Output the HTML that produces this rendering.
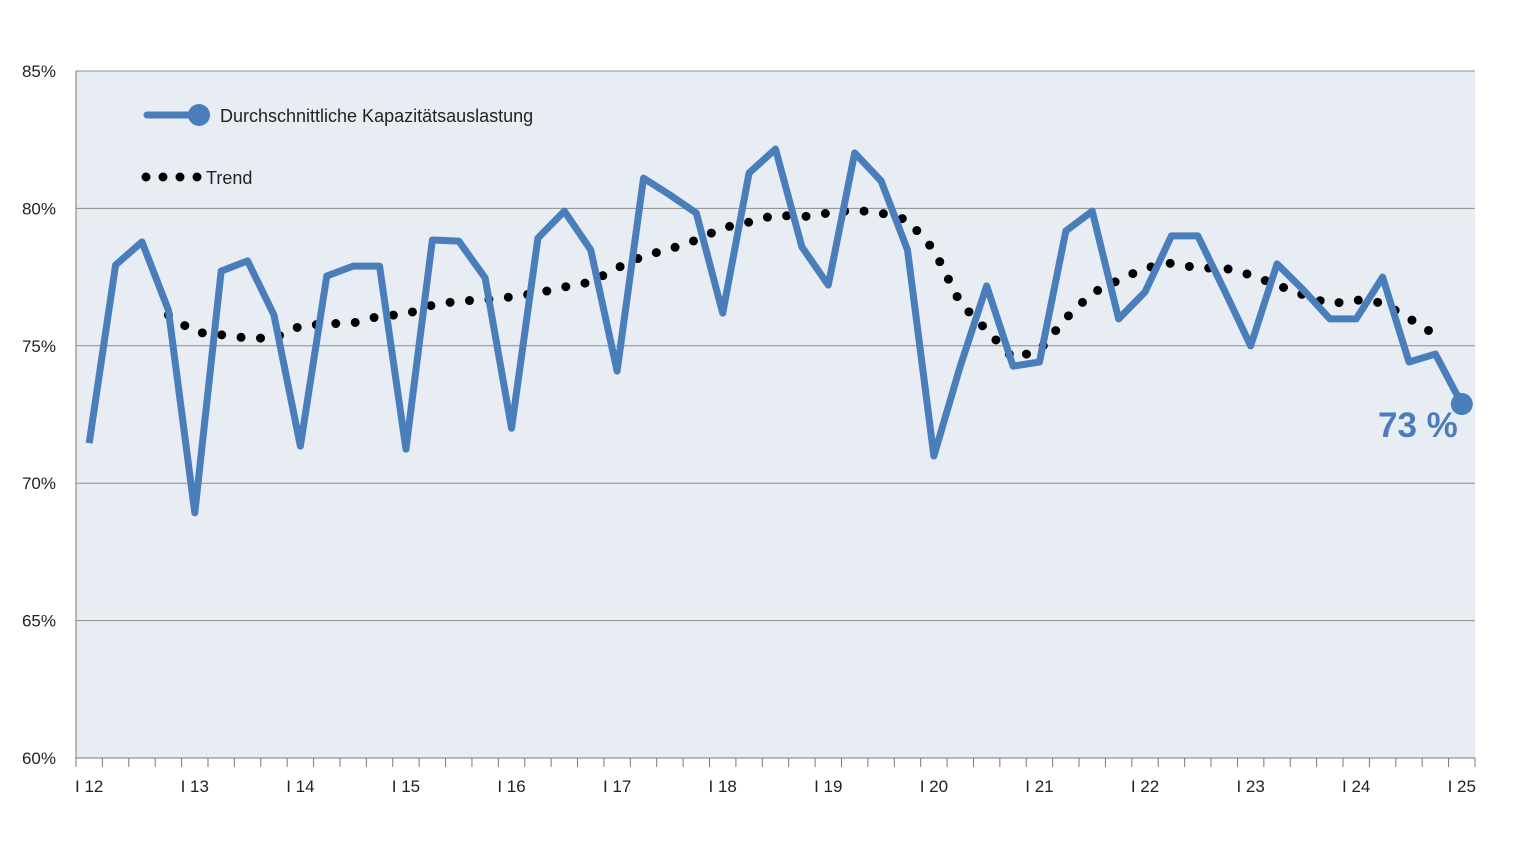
<!DOCTYPE html>
<html><head><meta charset="utf-8"><style>
body{margin:0;background:#fff;}
svg{display:block;font-family:"Liberation Sans",sans-serif;}
</style></head><body>
<svg width="1520" height="845" id="chart">
<rect x="76" y="71" width="1399" height="687" fill="#e8edf4"/>
<g id="grid"></g><g id="axes"></g><g id="series"></g>
<g>
<line x1="147" y1="115" x2="198" y2="115" stroke="#4a7ebb" stroke-width="7" stroke-linecap="round"/>
<circle cx="199" cy="115" r="11" fill="#4a7ebb"/>
<text x="220" y="122" font-size="18" fill="#222">Durchschnittliche Kapazitätsauslastung</text>
<line x1="146" y1="177" x2="198" y2="177" stroke="#000" stroke-width="9" stroke-linecap="round" stroke-dasharray="0 17"/>
<text x="206" y="184" font-size="18" fill="#222">Trend</text>
</g>
</svg>
<script>
const yTicks=[60,65,70,75,80,85];
const yearLabels=["I 12","I 13","I 14","I 15","I 16","I 17","I 18","I 19","I 20","I 21","I 22","I 23","I 24","I 25"];
const capacity=[71.46,77.94,78.78,76.3,68.92,77.72,78.09,76.12,71.35,77.54,77.9,77.9,71.24,78.85,78.81,77.47,72.0,78.92,79.9,78.49,74.08,81.1,80.49,79.83,76.19,81.29,82.16,78.6,77.21,82.02,81.0,78.49,70.99,74.26,77.18,74.26,74.41,79.18,79.9,75.98,76.96,79.0,79.0,77.03,75.0,77.98,77.03,75.98,75.98,77.5,74.41,74.7,72.88];
const trendStart=3;
const trend=[76.12,75.5,75.4,75.28,75.28,75.72,75.8,75.83,76.08,76.15,76.48,76.63,76.67,76.78,76.92,77.14,77.32,77.83,78.27,78.52,78.85,79.29,79.5,79.76,79.69,79.83,79.94,79.83,79.58,78.49,76.56,75.57,74.55,74.84,76.0,76.92,77.39,77.83,78.01,77.83,77.83,77.58,77.21,76.85,76.52,76.67,76.56,76.0,75.4];
const lastLabel="73 %";
const NS="http://www.w3.org/2000/svg";
const L=76,R=1475,T=71,B=758,yMin=60,yMax=85;
const n=capacity.length, step=(R-L)/n;
const xs=i=>L+step*(i+0.5);
const ys=v=>B-(v-yMin)/(yMax-yMin)*(B-T);
function mk(tag,attrs,parent){const e=document.createElementNS(NS,tag);for(const k in attrs)e.setAttribute(k,attrs[k]);document.getElementById(parent).appendChild(e);return e;}
yTicks.forEach(v=>{
 const y=ys(v);
 const g=mk('line',{x1:L,x2:R,y1:y,y2:y,stroke:v===60?'#777':'#8c8c8c','stroke-width':1},'grid');
 
 
 const t=mk('text',{x:56,y:y+6,'text-anchor':'end','font-size':17,fill:'#222'},'axes');
 t.textContent=v+'%';
 
 
});
mk('line',{x1:L,x2:L,y1:T,y2:B,stroke:'#777'},'axes');
for(let i=0;i<=n;i++){
 const x=L+step*i;
 const tk=mk('line',{x1:x,x2:x,y1:B,y2:B+9,stroke:'#777'},'axes');
 
 
}
yearLabels.forEach((s,j)=>{
 const t=mk('text',{x:xs(j*4),y:792,'text-anchor':'middle','font-size':17,fill:'#222'},'axes');
 t.textContent=s;
 
 
});
const tp=trend.map((v,i)=>xs(i+trendStart)+','+ys(v)).join(' ');
const tl=mk('polyline',{points:tp,fill:'none',stroke:'#000','stroke-width':9,'stroke-linecap':'round','stroke-dasharray':'0 19.5'},'series');


const cp=capacity.map((v,i)=>xs(i)+','+ys(v)).join(' ');
const cl=mk('polyline',{points:cp,fill:'none',stroke:'#4a7ebb','stroke-width':7,'stroke-linejoin':'round'},'series');


const li=n-1;
const c=mk('circle',{cx:xs(li),cy:ys(capacity[li]),r:11,fill:'#4a7ebb'},'series');


const lt=mk('text',{x:xs(li)-4,y:ys(capacity[li])+33,'text-anchor':'end','font-size':35,'font-weight':'bold',fill:'#4a7ebb'},'series');
lt.textContent=lastLabel;


</script>
</body></html>
